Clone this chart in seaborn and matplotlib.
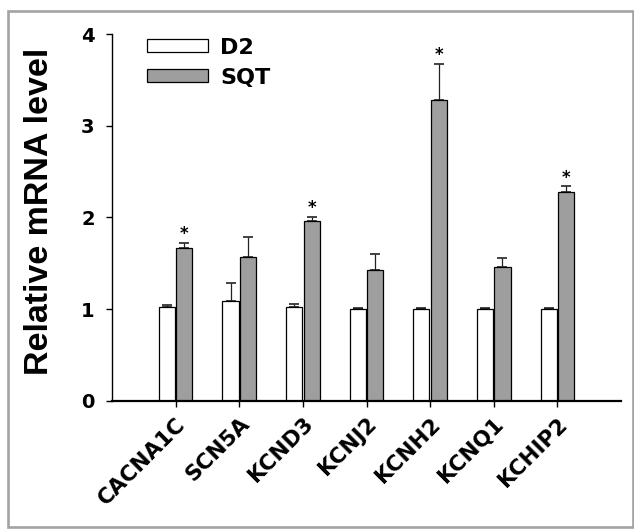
import numpy as np
import pandas as pd
import matplotlib
matplotlib.use("Agg")
import matplotlib.pyplot as plt
from matplotlib.patches import Rectangle
import seaborn as sns

# values
genes = ["CACNA1C", "SCN5A", "KCND3", "KCNJ2", "KCNH2", "KCNQ1", "KCHIP2"]
d2_mean = [1.02, 1.09, 1.02, 1.005, 1.005, 1.005, 1.005]
d2_sem = [0.02, 0.19, 0.03, 0.005, 0.005, 0.005, 0.005]
sqt_mean = [1.665, 1.57, 1.963, 1.428, 3.275, 1.462, 2.272]
sqt_sem = [0.06, 0.22, 0.045, 0.175, 0.40, 0.094, 0.07]
significant = [True, False, True, False, True, False, True]
groups = ["D2", "SQT"]

df = pd.DataFrame({
    "gene": genes * 2,
    "group": ["D2"] * len(genes) + ["SQT"] * len(genes),
    "level": d2_mean + sqt_mean,
})

sns.set_style("ticks")
plt.rcParams["font.family"] = ["DejaVu Sans"]
plt.rcParams["font.weight"] = "bold"
# seaborn greys the text; the figure uses plain black
for key in ["text.color", "axes.labelcolor", "xtick.color", "ytick.color",
            "axes.edgecolor"]:
    plt.rcParams[key] = "black"

fig = plt.figure(figsize=(6.34, 5.29), dpi=100)
ax = fig.add_axes([112 / 634, 1 - 400.7 / 529, 509 / 634, 366.7 / 529])

sns.barplot(data=df, x="gene", y="level", hue="group", order=genes,
            hue_order=groups, palette={"D2": "white", "SQT": "#9e9e9e"},
            width=0.55, gap=0.08, errorbar=None, edgecolor="black",
            linewidth=0.9, ax=ax, zorder=2)

# one-sided error bars (mean + SEM)
for cont, sem in zip(ax.containers, [d2_sem, sqt_sem]):
    xs = [p.get_x() + p.get_width() / 2 for p in cont.patches]
    ys = [p.get_height() for p in cont.patches]
    ax.errorbar(xs, ys, yerr=[np.zeros(len(sem)), sem], fmt="none",
                ecolor="#222222", elinewidth=0.9, capsize=3.6, capthick=1.2,
                zorder=1.5)

# asterisks over significant SQT bars
sqt_bars = ax.containers[1].patches
for p, m, s, sig in zip(sqt_bars, sqt_mean, sqt_sem, significant):
    if sig:
        ax.annotate("*", (p.get_x() + p.get_width() / 2, m + s),
                    xytext=(0, 2.5), textcoords="offset points",
                    ha="center", va="baseline", fontsize=12,
                    fontweight="bold")

ax.set_xlim(-1, 7)
ax.set_ylim(0, 4)
ax.set_yticks([0, 1, 2, 3, 4])
ax.set_xlabel("")
ax.set_ylabel("Relative mRNA level", fontsize=24.5, fontweight="bold",
              fontfamily=["Liberation Sans", "DejaVu Sans"])
ax.yaxis.set_label_coords(-0.112, 0.515)

sns.despine(ax=ax)
ax.spines["left"].set_linewidth(1.0)
ax.spines["bottom"].set_linewidth(1.6)
ax.tick_params(axis="y", direction="out", length=4.5, width=1.0,
               pad=8, labelsize=14)
ax.tick_params(axis="x", direction="out", length=4.5, width=1.0,
               pad=5, labelsize=15.5)
for lab in ax.get_xticklabels():
    lab.set_rotation(45)
    lab.set_ha("right")
    lab.set_rotation_mode("anchor")
    lab.set_fontweight("bold")
for lab in ax.get_yticklabels():
    lab.set_fontweight("bold")

handles, labels = ax.get_legend_handles_labels()
ax.legend(handles, labels, loc="upper left", bbox_to_anchor=(0.069, 0.99),
          frameon=False, borderpad=0, borderaxespad=0,
          handlelength=2.75, handleheight=0.5, handletextpad=0.55,
          labelspacing=0.45, prop={"weight": "bold", "size": 16})

# grey frame around the whole panel
fig.patches.append(Rectangle((8 / 634, 1 - 527 / 529), 625 / 634, 516 / 529,
                             transform=fig.transFigure, fill=False,
                             edgecolor="#a3a3a3", linewidth=1.9))

fig.savefig("out.png", dpi=100)
